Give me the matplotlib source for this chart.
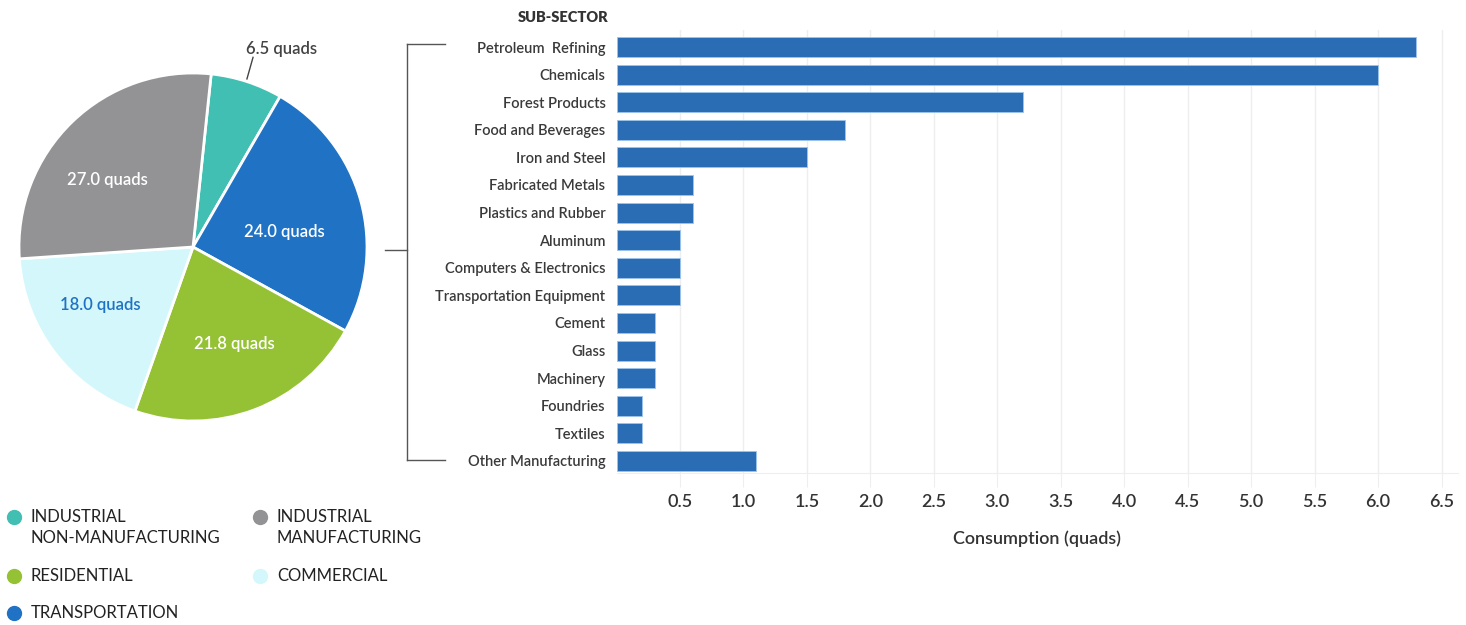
import matplotlib
matplotlib.use("Agg")
import matplotlib.pyplot as plt
from matplotlib.lines import Line2D

plt.rcParams['font.family'] = ['Lato', 'DejaVu Sans']

# ---------------- data ----------------
sector_names = ["INDUSTRIAL\nNON-MANUFACTURING", "TRANSPORTATION", "RESIDENTIAL",
                "COMMERCIAL", "INDUSTRIAL\nMANUFACTURING"]
sector_values = [6.5, 24.0, 21.8, 18.0, 27.0]
sector_colors = ["#41bfb3", "#1f72c4", "#95c235", "#d4f7fb", "#939396"]
sector_label_colors = ["#444444", "white", "white", "#1f72c4", "white"]

subsectors = ["Petroleum  Refining", "Chemicals", "Forest Products", "Food and Beverages",
              "Iron and Steel", "Fabricated Metals", "Plastics and Rubber", "Aluminum",
              "Computers & Electronics", "Transportation Equipment", "Cement", "Glass",
              "Machinery", "Foundries", "Textiles", "Other Manufacturing"]
subsector_values = [6.3, 6.0, 3.2, 1.8, 1.5, 0.6, 0.6, 0.5, 0.5, 0.5, 0.3, 0.3, 0.3,
                    0.2, 0.2, 1.1]
x_ticks = [0.5, 1.0, 1.5, 2.0, 2.5, 3.0, 3.5, 4.0, 4.5, 5.0, 5.5, 6.0, 6.5]

W, H = 1466, 625
fig = plt.figure(figsize=(W / 100, H / 100), dpi=100)


def fx(x):
    return x / W


def fy(y):
    return 1 - y / H


# ---------------- pie ----------------
cx, cy, r = 193, 247, 174
axp = fig.add_axes([fx(cx - r), fy(cy + r), 2 * r / W, 2 * r / H])
wedges, _ = axp.pie(sector_values, colors=sector_colors, startangle=84,
                    counterclock=False,
                    wedgeprops=dict(edgecolor="white", linewidth=2))
axp.set_xlim(-1, 1)
axp.set_ylim(-1, 1)
axp.set_aspect("equal")
axp.axis("off")

label_pos = [(0.51, 1.14), (0.523, 0.086), (0.236, -0.557), (-0.534, -0.333), (-0.494, 0.385)]
for v, (lx, ly), c in zip(sector_values, label_pos, sector_label_colors):
    axp.text(lx, ly, f"{v:.1f} quads", ha="center", va="center", fontsize=12,
             color=c, fontweight="semibold", clip_on=False)
axp.add_line(Line2D([0.345, 0.31], [1.09, 0.966], color="#444444", lw=1, clip_on=False))

# ---------------- bars ----------------
x0, x1 = 616.5, 1458
y_top, y_bot = 30, 473
axb = fig.add_axes([fx(x0), fy(y_bot), (x1 - x0) / W, (y_bot - y_top) / H])
ypos = list(range(len(subsectors)))
axb.barh(ypos, subsector_values, height=0.72, color="#2b6db5",
         edgecolor="#9cc4ea", linewidth=0.6, zorder=3)
axb.set_xlim(0, 6.63)
axb.set_ylim(15.435, -0.616)
axb.set_xticks(x_ticks)
axb.set_xticklabels([f"{t:.1f}" for t in x_ticks], fontsize=13, color="#333333",
                    fontweight="semibold")
axb.xaxis.grid(True, color="#eeeeee", lw=1, zorder=0)
axb.tick_params(axis="x", length=10, color="#eeeeee", pad=5)
axb.set_yticks(ypos)
axb.set_yticklabels(subsectors, fontsize=10.5, color="#3a3a3a", fontweight="semibold")
axb.tick_params(axis="y", length=0, pad=8)
for s in ["top", "right", "left"]:
    axb.spines[s].set_visible(False)
axb.spines["bottom"].set_color("#eeeeee")
axb.set_xlabel("Consumption (quads)", fontsize=13, color="#333333", labelpad=15,
               fontweight="semibold")

fig.text(fx(608), fy(17), "SUB-SECTOR", ha="right", va="center", fontsize=10.5,
         fontweight="heavy", color="#333333")

# bracket
bc = "#555555"
for xs, ys in [([407, 407], [44, 460]), ([407, 445], [44, 44]), ([407, 445], [460, 460]),
               ([385, 407], [250, 250])]:
    fig.add_artist(Line2D([fx(v) for v in xs], [fy(v) for v in ys], color=bc, lw=1))

# ---------------- legend ----------------
legend_xy = [(14, 517), (14, 613), (14, 576), (260, 576), (260, 517)]
for name, col, (lx, ly) in zip(sector_names, sector_colors, legend_xy):
    fig.add_artist(Line2D([fx(lx)], [fy(ly)], marker="o", markersize=10,
                          markerfacecolor=col, markeredgecolor=col, linestyle="none"))
    for k, ln in enumerate(name.split("\n")):
        fig.text(fx(lx + 17), fy(ly + 21 * k), ln, ha="left", va="center",
                 fontsize=12, color="#222222")

fig.savefig("out.png", dpi=100)
